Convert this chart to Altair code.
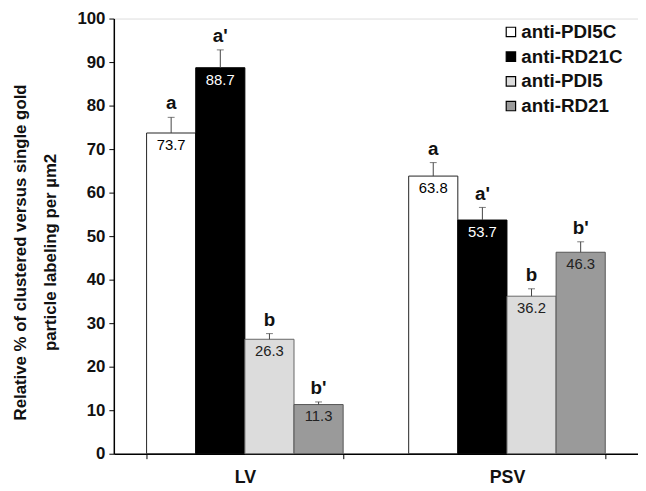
import altair as alt
import pandas as pd

groups = ["LV", "LV", "LV", "LV", "PSV", "PSV", "PSV", "PSV"]
series = ["anti-PDI5C", "anti-RD21C", "anti-PDI5", "anti-RD21"] * 2
values = [73.7, 88.7, 26.3, 11.3, 63.8, 53.7, 36.2, 46.3]
err_top = [77.3, 92.8, 27.6, 11.9, 66.9, 56.6, 37.9, 48.7]
letters = ["a", "a'", "b", "b'", "a", "a'", "b", "b'"]
labels = ["73.7", "88.7", "26.3", "11.3", "63.8", "53.7", "36.2", "46.3"]
series_order = ["anti-PDI5C", "anti-RD21C", "anti-PDI5", "anti-RD21"]
fills = ["#ffffff", "#000000", "#dcdcdc", "#9a9a9a"]
strokes = ["#222222", "#000000", "#666666", "#555555"]
text_colors = ["black", "white", "#222222", "#222222"]

df = pd.DataFrame({
    "group": groups, "series": series, "value": values,
    "err": err_top, "letter": letters, "label": labels,
    "tcolor": [text_colors[series_order.index(s)] for s in series],
    "scolor": [strokes[series_order.index(s)] for s in series],
})

FONT = "Liberation Sans"

x = alt.X("group:N", sort=["LV", "PSV"],
          scale=alt.Scale(paddingInner=0.25, paddingOuter=0.125),
          axis=alt.Axis(title=None, labelAngle=0, labelFont=FONT, labelFontSize=18,
                        labelFontWeight="bold", labelColor="#111111", labelPadding=10,
                        labelBaseline="top",
                        tickBand="extent", tickSize=5, tickColor="black",
                        domainColor="black", domainWidth=1.5))
xo = alt.XOffset("series:N", sort=series_order, scale=alt.Scale(domain=series_order))
yscale = alt.Scale(domain=[0, 100])

base = alt.Chart(df)

bars = base.mark_bar(strokeWidth=1).encode(
    x=x, xOffset=xo,
    y=alt.Y("value:Q", scale=yscale,
            axis=alt.Axis(values=list(range(0, 101, 10)), grid=False,
                          title=["Relative % of clustered versus single gold",
                                 "particle labeling per µm2"],
                          titleFont=FONT, titleFontSize=17, titleFontWeight="bold",
                          titleColor="#111111", titleLineHeight=30,
                          titleAngle=-90, titleAlign="center", titleBaseline="alphabetic",
                          titleX=-89, titleY=236,
                          labelFont=FONT, labelFontSize=17, labelFontWeight="bold",
                          labelColor="#111111", labelPadding=4,
                          tickColor="black", tickSize=5,
                          domainColor="black", domainWidth=1.5)),
    fill=alt.Fill("series:N", sort=series_order,
                  scale=alt.Scale(domain=series_order, range=fills),
                  legend=alt.Legend(title=None, orient="none", legendX=392, legendY=4,
                                    symbolType="square", symbolSize=90,
                                    symbolStrokeColor="black", symbolStrokeWidth=1.2,
                                    labelFont=FONT, labelFontSize=19,
                                    labelFontWeight="bold", labelColor="#111111",
                                    rowPadding=5, labelOffset=1)),
    stroke=alt.Stroke("scolor:N", scale=None, legend=None),
)

rules = base.mark_rule(color="#444444", strokeWidth=1).encode(
    x=x, xOffset=xo, y="value:Q", y2="err:Q")

caps = base.mark_tick(color="#444444", thickness=1, size=7, orient="horizontal").encode(
    x=x, xOffset=xo, y="err:Q")

vals = base.mark_text(font=FONT, fontSize=15, baseline="top", dy=5).encode(
    x=x, xOffset=xo, y="value:Q", text="label:N",
    color=alt.Color("tcolor:N", scale=None))

lets = base.mark_text(font=FONT, fontSize=19, fontWeight="bold", baseline="bottom",
                      dy=-4, color="#111111").encode(
    x=x, xOffset=xo, y="err:Q", text="letter:N")

chart = alt.layer(bars, rules, caps, vals, lets).properties(
    width=530, height=440,
    autosize=alt.AutoSizeParams(type="none"),
    padding={"left": 107, "top": 8, "right": 0, "bottom": 34},
).configure_view(stroke=None).configure(background="white")

chart.save("out.html", embed_options={"renderer": "svg", "actions": False})
